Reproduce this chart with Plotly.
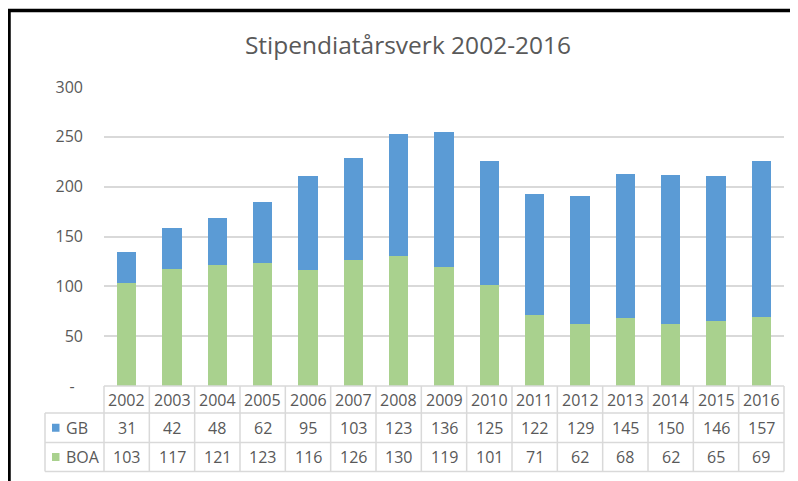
import plotly.graph_objects as go

years = ["2002", "2003", "2004", "2005", "2006", "2007", "2008", "2009",
         "2010", "2011", "2012", "2013", "2014", "2015", "2016"]
gb = [31, 42, 48, 62, 95, 103, 123, 136, 125, 122, 129, 145, 150, 146, 157]
boa = [103, 117, 121, 123, 116, 126, 130, 119, 101, 71, 62, 68, 62, 65, 69]
series_names = ["GB", "BOA"]
y_tickvals = [0, 50, 100, 150, 200, 250, 300]
y_ticktext = ["-\u00a0\u00a0", "50", "100", "150", "200", "250", "300"]

title = "Stipendiatårsverk 2002-2016"
BLUE = "#5B9BD5"
GREEN = "#A9D18E"
GRID = "#D9D9D9"
TXT = "#595959"
FONT = "Open Sans"

# page body has an 8px default margin; positions below are screen pixels
OFF = 8
W, H = 798, 481
L, R, T, B = 104 - OFF, 14 + OFF, 87 - OFF, 95 + OFF
PW, PH = W - L - R, H - T - B


def px_x(px):
    return (px - OFF - L) / PW


def px_y(py):
    return (H - B - (py - OFF)) / PH


fig = go.Figure()
fig.add_trace(go.Bar(x=years, y=boa, name="BOA", marker=dict(color=GREEN, line=dict(width=0))))
fig.add_trace(go.Bar(x=years, y=gb, name="GB", marker=dict(color=BLUE, line=dict(width=0))))

shapes = []
annotations = []

row_edges = [386, 413, 442.5, 471.5]
leg_left = 45
n = len(years)

shapes.append(dict(type="line", xref="paper", yref="paper", x0=0, x1=1,
                   y0=px_y(row_edges[0]), y1=px_y(row_edges[0]),
                   line=dict(color=GRID, width=1.5)))
for ry in row_edges[1:]:
    shapes.append(dict(type="line", xref="paper", yref="paper", x0=px_x(leg_left), x1=1,
                       y0=px_y(ry), y1=px_y(ry), line=dict(color=GRID, width=1.5)))
for k in range(n + 1):
    xp = k / n
    shapes.append(dict(type="line", xref="paper", yref="paper", x0=xp, x1=xp,
                       y0=px_y(row_edges[0]), y1=px_y(row_edges[-1]),
                       line=dict(color=GRID, width=1.5)))
shapes.append(dict(type="line", xref="paper", yref="paper", x0=px_x(leg_left), x1=px_x(leg_left),
                   y0=px_y(row_edges[1]), y1=px_y(row_edges[-1]),
                   line=dict(color=GRID, width=1.5)))

hy = px_y((row_edges[0] + row_edges[1]) / 2)
for i, yr in enumerate(years):
    annotations.append(dict(x=i, xref="x", y=hy, yref="paper", text=yr, showarrow=False,
                            xanchor="center", yanchor="middle",
                            font=dict(family=FONT, size=16, color=TXT)))

rows = [("GB", gb, BLUE), ("BOA", boa, GREEN)]
for r, (name, vals, col) in enumerate(rows):
    top, bot = row_edges[r + 1], row_edges[r + 2]
    cy = (top + bot) / 2
    for i, v in enumerate(vals):
        annotations.append(dict(x=i, xref="x", y=px_y(cy), yref="paper", text=str(v),
                                showarrow=False, xanchor="center", yanchor="middle",
                                font=dict(family=FONT, size=16, color=TXT)))
    shapes.append(dict(type="rect", xref="paper", yref="paper",
                       x0=px_x(52), x1=px_x(59.5), y0=px_y(cy - 4), y1=px_y(cy + 4),
                       fillcolor=col, line=dict(width=0)))
    annotations.append(dict(x=px_x(64), xref="paper", y=px_y(cy), yref="paper", text=name,
                            showarrow=False, xanchor="left", yanchor="middle",
                            font=dict(family=FONT, size=16, color=TXT)))

shapes.append(dict(type="rect", xref="paper", yref="paper",
                   x0=px_x(9), x1=px_x(W + 30), y0=px_y(10.5), y1=px_y(H + 30),
                   line=dict(color="black", width=3.5), fillcolor="rgba(0,0,0,0)"))

fig.update_layout(
    width=W, height=H,
    margin=dict(l=L, r=R, t=T, b=B),
    paper_bgcolor="white", plot_bgcolor="white",
    barmode="stack", bargap=0.58,
    showlegend=False,
    title=dict(text=title, x=(408 - OFF) / W, xref="container", xanchor="center",
               y=1 - (45 - OFF) / H, yanchor="middle",
               font=dict(family=FONT, size=24.5, color=TXT)),
    xaxis=dict(type="category", showticklabels=False, showgrid=False, zeroline=False,
               showline=False, ticks="", range=[-0.5, n - 0.5]),
    yaxis=dict(range=[0, 300], tickvals=y_tickvals, ticktext=y_ticktext,
               showgrid=True, gridcolor=GRID, gridwidth=1.5, zeroline=False, showline=False,
               ticks="", ticklabelstandoff=20,
               tickfont=dict(family=FONT, size=16, color=TXT)),
    shapes=shapes,
    annotations=annotations,
)

fig.write_html("out.html")
